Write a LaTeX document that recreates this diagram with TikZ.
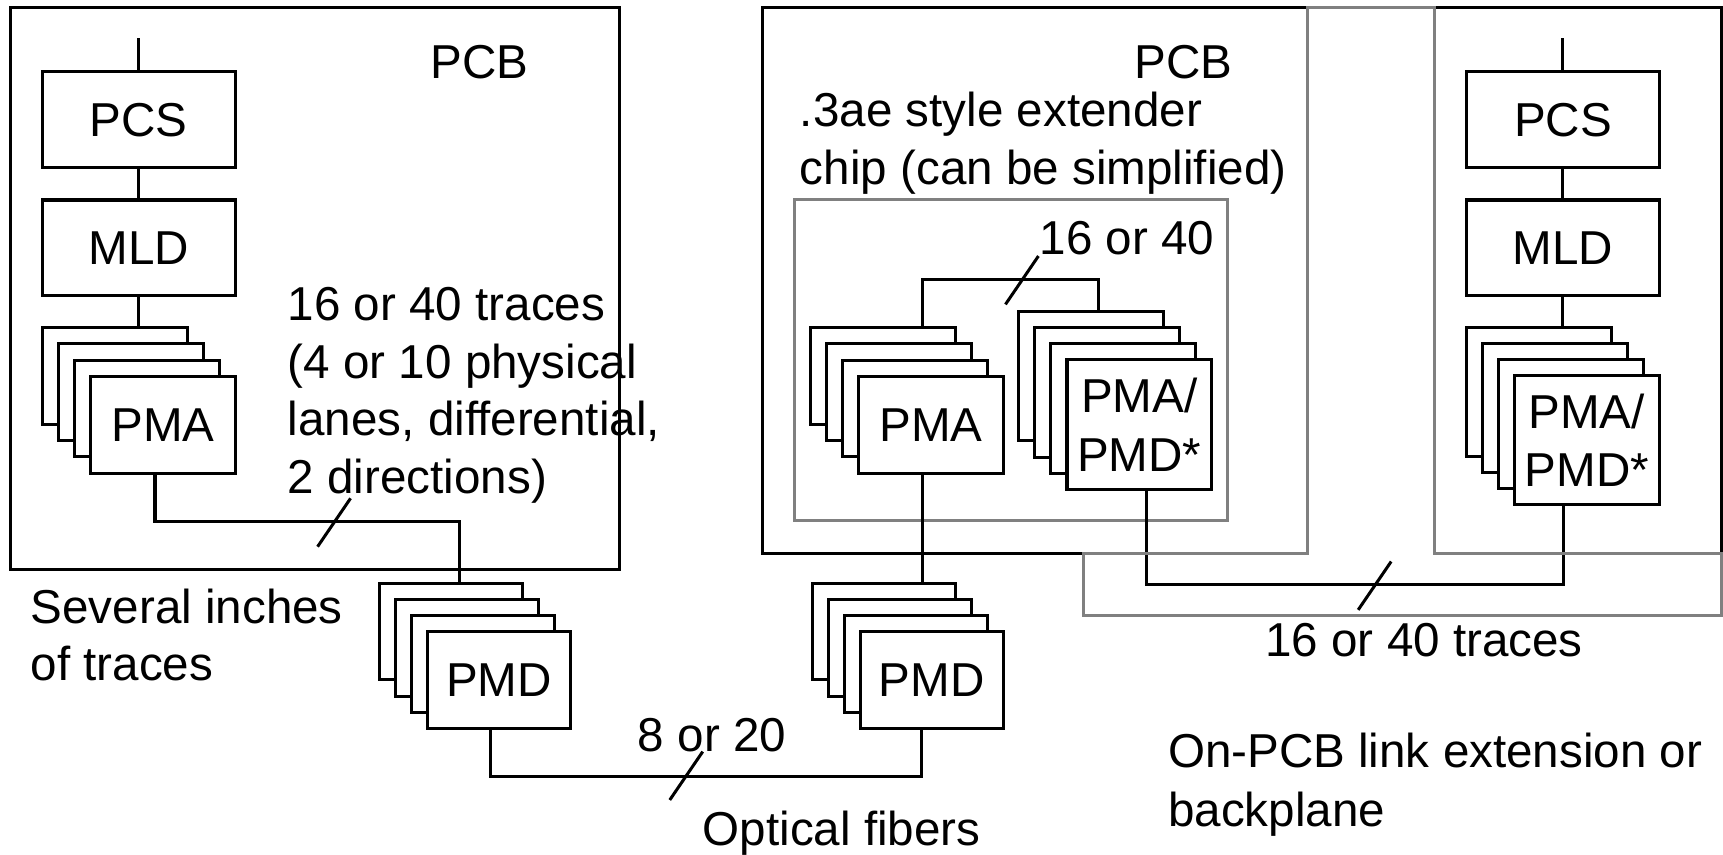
\documentclass[tikz,border=0pt]{standalone}
\usepackage{fontspec}
\setmainfont{Liberation Sans}
\usetikzlibrary{calc}

% one unit = 0.5pt, y grows downward
\tikzset{
  every node/.style={inner sep=0pt, outer sep=0pt},
  lbl/.style={font=\fontsize{21.65}{26.5}\selectfont},
  wire/.style={draw=black, line width=1.37pt, line cap=rect, line join=miter},
  board/.style={draw=black, line width=1.37pt},
  greyline/.style={draw=black!50, line width=1.37pt, line join=miter},
  card/.style={draw=black, line width=1.37pt, fill=white, anchor=north west,
               align=center, lbl},
}

% a stack of four cards; #1 name, (#2,#3) top-left of the front card,
% #4/#5 width/height, #6 label of the front card
\newcommand{\cardstack}[6]{%
  \foreach \k in {3,2,1}{%
    \node[card, minimum width=#4, minimum height=#5] (#1-\k)
      at ({#2-14.6*\k},{#3-14.8*\k}) {};
  }
  \node[card, minimum width=#4, minimum height=#5] (#1) at (#2,#3) {#6};
}
% short tick across a bundle of lines
\newcommand{\bundletick}[1]{%
  \draw[line width=1.37pt] ($(#1)+(-15,22)$) -- ($(#1)+(15,-22)$);
}

\begin{document}
\begin{tikzpicture}[x=0.5pt, y=-0.5pt]
  \useasboundingbox (0,0) rectangle (1568,778);

  % boards
  \draw[board] (9.5,7) rectangle (563.5,518);
  \draw[board] (694,7) rectangle (1189.5,503.5);
  \draw[board] (1305,7) rectangle (1566.5,503.5);
  % extender chip outline
  \draw[greyline] (723,181.5) rectangle (1117,474);

  % ---- left host ----
  \node[card, minimum width=87.75pt, minimum height=43.5pt] (pcsL) at (38.5,65.5) {PCS};
  \node[card, minimum width=87.75pt, minimum height=43.5pt] (mldL) at (38.5,182) {MLD};
  \cardstack{pmaL}{82.5}{342.5}{65.75pt}{44pt}{PMA}
  \cardstack{pmdL}{389}{575}{65pt}{44pt}{PMD}

  \coordinate (inL) at (126.25,36);
  \draw[wire] (inL) -- (inL |- pcsL.north);
  \draw[wire] (pcsL.south) -- (mldL.north);
  \draw[wire] (mldL.south) -- (mldL.south |- pmaL-3.north);
  \draw[wire] ([xshift=-3.6pt]pmaL.south) -- ++(0,44.5)
              -| ([xshift=3.9pt]pmdL-3.north);

  % ---- extender chip ----
  \cardstack{pmaM}{781.3}{342.5}{65.85pt}{44pt}{PMA}
  \cardstack{ppM}{971}{327.5}{65.75pt}{59pt}{PMA/\\PMD*}
  \draw[wire] ([xshift=18pt]pmaM-3.north) -- ++(0,-43.5)
              -| ([xshift=3.5pt]ppM-3.north);

  % ---- far-side PMD ----
  \cardstack{pmdR}{783}{575}{65pt}{44pt}{PMD}
  \draw[wire] ([xshift=-3.85pt]pmaM.south) -- ([xshift=-3.85pt]pmaM.south |- pmdR-3.north);
  \draw[wire] ([xshift=-3.75pt]pmdL.south) -- ++(0,44)
              -| ([xshift=-4.75pt]pmdR.south);

  % ---- right host ----
  \node[card, minimum width=87.65pt, minimum height=43.5pt] (pcsR) at (1334.7,65.5) {PCS};
  \node[card, minimum width=87.65pt, minimum height=43.5pt] (mldR) at (1334.7,182) {MLD};
  \cardstack{ppR}{1378}{342}{66pt}{58.75pt}{PMA/\\PMD*}
  \coordinate (inR) at (1422.35,36);
  \draw[wire] (inR) -- (inR |- pcsR.north);
  \draw[wire] (pcsR.south) -- (mldR.north);
  \draw[wire] (mldR.south) -- (mldR.south |- ppR-3.north);
  \draw[wire] ([xshift=3.4pt]ppM.south) -- ++(0,86.5)
              -| ([xshift=-10.75pt]ppR.south);

  % backplane outline
  \draw[greyline] (986,503.5) -- (986,560) -- (1566.5,560) -- (1566.5,503.5)
      -- (1305,503.5) -- (1305,7) -- (1189.5,7) -- (1189.5,503.5) -- cycle;

  % bundle ticks
  \coordinate (tkA) at (304,475.5);
  \coordinate (tkB) at (624.5,706);
  \coordinate (tkC) at (930,255);
  \coordinate (tkD) at (1251,533);
  \bundletick{tkA}
  \bundletick{tkB}
  \bundletick{tkC}
  \bundletick{tkD}

  % labels
  \node[lbl, anchor=base] (pcbL) at (436.5,71) {PCB};
  \node[lbl, anchor=base] (pcbM) at (1077,71) {PCB};
  \node[lbl, anchor=base west] (ext1) at (728,115.5) {.3ae style extender};
  \node[lbl, anchor=base west] (ext2) at (728,168) {chip (can be simplified)};
  \node[lbl, anchor=base] (cntM) at (1025.5,232) {16 or 40};

  \node[lbl, anchor=base west] (trL1) at (262,291.7) {16 or 40 traces};
  \node[lbl, anchor=base west] (trL2) at (262,344.2) {(4 or 10 physical};
  \node[lbl, anchor=base west] (trL3) at (262,396.7) {lanes, differential,};
  \node[lbl, anchor=base west] (trL4) at (262,449.2) {2 directions)};

  \node[lbl, anchor=base west] (sev1) at (28,567) {Several inches};
  \node[lbl, anchor=base west] (sev2) at (28,619) {of traces};

  \node[lbl, anchor=base] (fib) at (648,684) {8 or 20};
  \node[lbl, anchor=base] (opt) at (766,769) {Optical fibers};

  \node[lbl, anchor=base] (trR) at (1296,597) {16 or 40 traces};
  \node[lbl, anchor=base west] (bp1) at (1063,698) {On-PCB link extension or};
  \node[lbl, anchor=base west] (bp2) at (1063,752) {backplane};
\end{tikzpicture}
\end{document}
